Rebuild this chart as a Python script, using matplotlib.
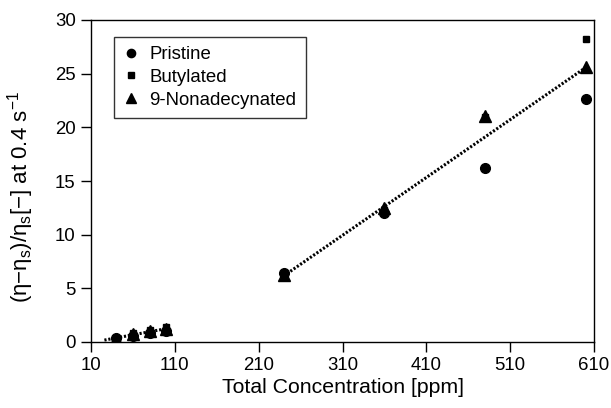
import numpy as np
import matplotlib
matplotlib.use("Agg")
import matplotlib.pyplot as plt

plt.rcParams['font.family'] = ['Liberation Sans', 'DejaVu Sans']
plt.rcParams['mathtext.fontset'] = 'custom'
plt.rcParams['mathtext.rm'] = 'Liberation Sans'
plt.rcParams['mathtext.it'] = 'Liberation Sans'

conc = [40, 60, 80, 100, 240, 360, 480, 600]
pristine = [0.35, 0.6, 0.85, 1.05, 6.4, 12.0, 16.2, 22.6]
butylated = [0.4, 0.8, 1.1, 1.4, 6.3, 12.3, 21.0, 28.2]
nonadecynated = [0.3, 0.7, 1.0, 1.2, 6.2, 12.5, 21.1, 25.6]

xticks = [10, 110, 210, 310, 410, 510, 610]
yticks = [0, 5, 10, 15, 20, 25, 30]

fig = plt.figure(figsize=(6.11, 4.08), dpi=100)
ax = fig.add_axes([91/611, 1-342/408, 503/611, 322/408])

ax.plot(conc, pristine, 'o', color='black', ms=7, label='Pristine', zorder=3)
ax.plot(conc, butylated, 's', color='black', ms=5, label='Butylated', zorder=3)
ax.plot(conc, nonadecynated, '^', color='black', ms=8, label='9-Nonadecynated', zorder=3)

c = np.array(conc, float)
allv = np.array([pristine, butylated, nonadecynated]).mean(axis=0)
lo = c <= 100
p_lo = np.polyfit(c[lo], allv[lo], 1)
xl = np.array([26, 104])
ax.plot(xl, np.polyval(p_lo, xl), color='black', lw=2.2, linestyle=(0, (0.7, 0.6)))
hi = c >= 240
p_hi = np.polyfit(c[hi], allv[hi], 1)
xh = np.array([240, 600])
ax.plot(xh, np.polyval(p_hi, xh), color='black', lw=2.2, linestyle=(0, (0.7, 0.6)))

ax.set_xlim(10, 610)
ax.set_ylim(0, 30)
ax.set_xticks(xticks)
ax.set_yticks(yticks)
ax.tick_params(direction='out', length=7, labelsize=13.4, width=1, pad=4)
ax.set_xlabel('Total Concentration [ppm]', fontsize=15.3, labelpad=3)
ax.set_ylabel(r'($\mathregular{\eta}$−$\mathregular{\eta_s}$)/$\mathregular{\eta_s}$[−] at 0.4 s$^{\mathregular{-1}}$',
              fontsize=16)
ax.yaxis.set_label_coords(-0.11, 0.45)
for s in ax.spines.values():
    s.set_linewidth(1)

leg = ax.legend(loc='upper left', bbox_to_anchor=(23/503, 305/322), fontsize=13.4, frameon=True,
                fancybox=False, edgecolor='black', handlelength=0.8, handletextpad=0.6,
                borderpad=0.5, labelspacing=0.3, borderaxespad=0, markerscale=0.85)
leg.get_frame().set_linewidth(1)

fig.savefig('out.png', dpi=100)
